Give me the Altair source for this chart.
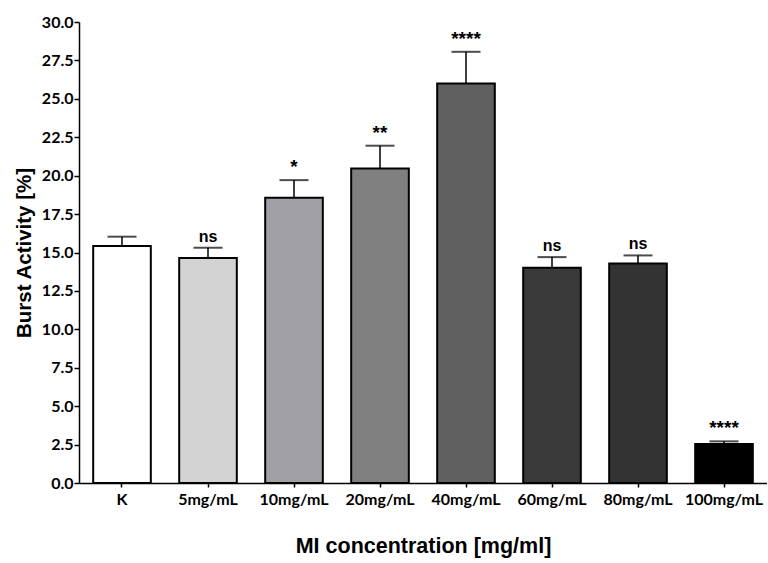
import altair as alt
import pandas as pd

categories = ["K", "5mg/mL", "10mg/mL", "20mg/mL", "40mg/mL", "60mg/mL", "80mg/mL", "100mg/mL"]
means = [15.42, 14.64, 18.56, 20.47, 26.0, 14.01, 14.29, 2.54]
err_tops = [16.03, 15.31, 19.71, 21.95, 28.06, 14.70, 14.81, 2.71]
signif = ["", "ns", "*", "**", "****", "ns", "ns", "****"]
colors = ["#ffffff", "#d3d3d3", "#a1a1a5", "#808080", "#606060", "#3a3a3a", "#333333", "#000000"]
y_ticks = [0.0, 2.5, 5.0, 7.5, 10.0, 12.5, 15.0, 17.5, 20.0, 22.5, 25.0, 27.5, 30.0]

df = pd.DataFrame({"cat": categories, "mean": means, "err": err_tops, "sig": signif})

x_axis = alt.Axis(title="MI concentration [mg/ml]", labelAngle=0,
                  labelFont="Lato", labelFontWeight="bold", labelFontSize=16,
                  labelColor="black", labelPadding=4,
                  titleFont="Liberation Sans", titleFontWeight="bold", titleFontSize=21.5,
                  titleColor="black", titlePadding=28,
                  domainColor="black", domainWidth=1.5,
                  tickColor="black", tickWidth=1.5, tickSize=4)
y_axis = alt.Axis(title="Burst Activity [%]", values=y_ticks, format=".1f",
                  labelOverlap=False,
                  labelFont="Lato", labelFontWeight="bold", labelFontSize=16,
                  labelColor="black", labelPadding=1,
                  titleFont="Liberation Sans", titleFontWeight="bold", titleFontSize=20.5,
                  titleColor="black", titlePadding=7,
                  domainColor="black", domainWidth=1.5,
                  tickColor="black", tickWidth=1.5, tickSize=5, grid=False)
x_scale = alt.Scale(paddingInner=0.33, paddingOuter=0.165)
y_scale = alt.Scale(domain=[0, 30], nice=False)


def X():
    return alt.X("cat:N", sort=categories, scale=x_scale, axis=x_axis)


def Y(field):
    return alt.Y(field, type="quantitative", scale=y_scale, axis=y_axis)


base = alt.Chart(df)

bars = base.mark_bar(stroke="black", strokeWidth=2).encode(
    x=X(), y=Y("mean"),
    color=alt.Color("cat:N", sort=categories,
                    scale=alt.Scale(domain=categories, range=colors), legend=None),
)
rule = base.mark_rule(color="black", strokeWidth=1.5).encode(
    x=X(), y=Y("mean"), y2="err:Q")
cap = base.mark_tick(color="black", thickness=2, size=29, orient="horizontal").encode(
    x=X(), y=Y("err"))
text = base.mark_text(font="Liberation Sans", fontWeight="bold",
                      baseline="bottom", dy=-3, color="black").encode(
    x=X(), y=Y("err"), text="sig:N",
    size=alt.condition(alt.datum.sig == "ns", alt.value(16), alt.value(19)))

chart = alt.layer(bars, rule, cap, text).properties(
    width=688, height=461,
    autosize=alt.AutoSizeParams(type="none"),
    padding={"left": 79, "top": 22, "right": 0, "bottom": 80},
).configure_view(stroke=None)

chart.save("out.html", embed_options={"renderer": "svg", "actions": False})
